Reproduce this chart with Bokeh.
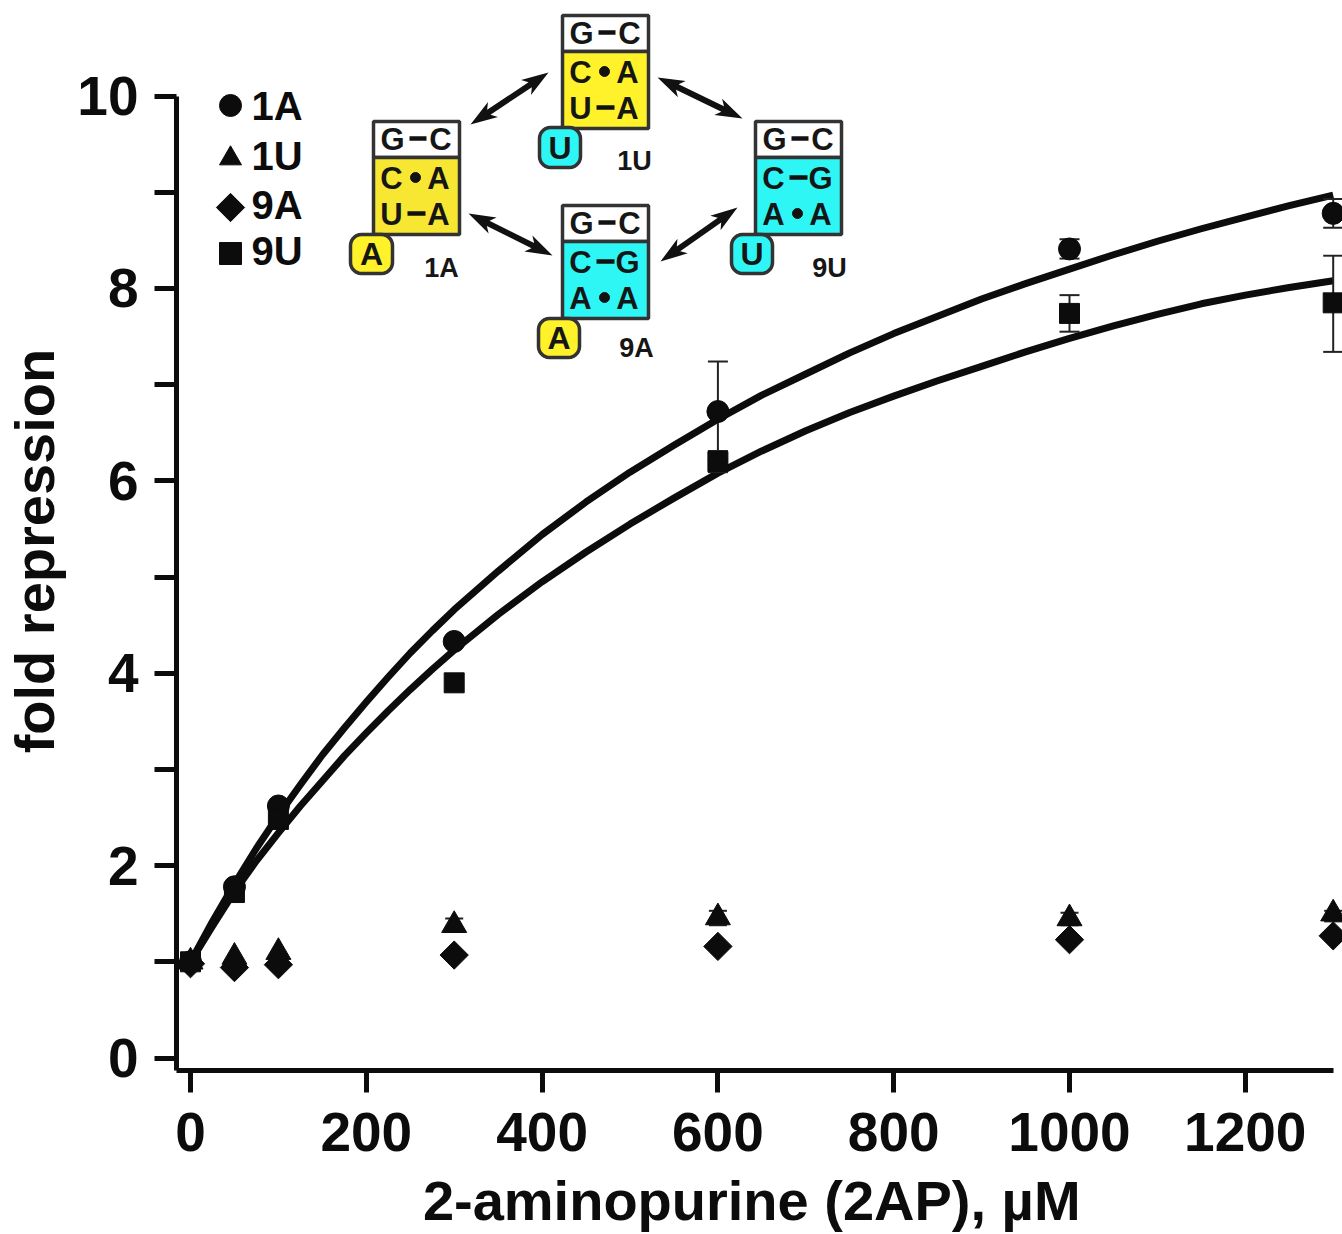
import numpy as np
from bokeh.plotting import figure
from bokeh.models import FixedTicker, Range1d
from bokeh.core.properties import value
from bokeh.embed import file_html
from bokeh.resources import INLINE

# ---------- data ----------
conc = [0, 50, 100, 300, 600, 1000, 1300]
y_1A = [1.0, 1.78, 2.62, 4.33, 6.72, 8.41, 8.78]
y_1U = [1.0, 1.05, 1.10, 1.38, 1.46, 1.45, 1.50]
y_9A = [0.98, 0.94, 0.97, 1.07, 1.16, 1.23, 1.27]
y_9U = [1.0, 1.72, 2.48, 3.90, 6.20, 7.74, 7.85]

err_1A_x = [600, 1000, 1300]
err_1A_lo = [6.22, 8.31, 8.63]
err_1A_hi = [7.24, 8.51, 8.93]
err_9U_x = [600, 1000, 1300]
err_9U_lo = [6.09, 7.55, 7.34]
err_9U_hi = [6.31, 7.93, 8.34]
err_1U_x = [300, 600, 1000, 1300]
err_1U_lo = [1.31, 1.38, 1.38, 1.42]
err_1U_hi = [1.45, 1.53, 1.51, 1.53]

curve_x = [0, 25, 50, 75, 100, 125, 150, 175, 200, 225, 250, 275, 300, 350, 400, 450, 500, 550, 600, 650, 700,
           750, 800, 850, 900, 950, 1000, 1050, 1100, 1150, 1200, 1250, 1300]
upper_y = [1.0, 1.42, 1.81, 2.18, 2.52, 2.84, 3.15, 3.43, 3.70, 3.96, 4.21, 4.44, 4.66, 5.06, 5.44, 5.78, 6.09, 6.37, 6.64,
           6.89, 7.11, 7.33, 7.53, 7.71, 7.89, 8.05, 8.20, 8.35, 8.49, 8.62, 8.74, 8.86, 8.97]
lower_y = [1.0, 1.37, 1.73, 2.05, 2.34, 2.62, 2.88, 3.14, 3.38, 3.61, 3.83, 4.04, 4.24, 4.61, 4.95, 5.26, 5.55, 5.82, 6.08,
           6.31, 6.52, 6.71, 6.88, 7.04, 7.19, 7.34, 7.48, 7.61, 7.73, 7.84, 7.93, 8.01, 8.08]

x_ticks = [0, 200, 400, 600, 800, 1000, 1200]
y_ticks = [0, 2, 4, 6, 8, 10]
y_minor = [1, 3, 5, 7, 9]

legend_names = ["1A", "1U", "9A", "9U"]
legend_markers = ["circle", "triangle", "square", "square"]

FONT = "Liberation Sans"
INK = "#0c0c0c"

# ---------- frame geometry ----------
W, H = 1342, 1234
FL, FB, FT = 176, 1070, 0
X0, XS = 190.0, 0.879
Y0, YS = 1057.5, 96.2


def dx(px):
    return (np.asarray(px, dtype=float) - X0) / XS


def dy(py):
    return (Y0 - np.asarray(py, dtype=float)) / YS


p = figure(width=W, height=H, output_backend="svg", toolbar_location=None,
           x_range=Range1d(float(dx(FL)), float(dx(W))),
           y_range=Range1d(float(dy(FB)), float(dy(FT))),
           min_border_left=FL, min_border_right=0, min_border_top=0,
           min_border_bottom=H - FB, outline_line_color=None,
           background_fill_color="white", border_fill_color="white")
p.grid.visible = False

xa, ya = p.xaxis[0], p.yaxis[0]
xa.ticker = FixedTicker(ticks=x_ticks)
ya.ticker = FixedTicker(ticks=y_ticks, minor_ticks=y_minor)
xa.bounds = (float(dx(FL)), 1300)
ya.bounds = (float(dy(FB)), 10)
for a in (xa, ya):
    a.axis_line_width = 5
    a.axis_line_color = INK
    a.major_tick_line_width = 5
    a.major_tick_line_color = INK
    a.major_tick_in = 0
    a.major_tick_out = 22
    a.major_label_text_font = FONT
    a.major_label_text_font_style = "bold"
    a.major_label_text_font_size = "55px"
    a.major_label_text_color = INK
    a.axis_label_text_font = FONT
    a.axis_label_text_font_style = "bold"
    a.axis_label_text_font_size = "56px"
    a.axis_label_text_color = INK
xa.minor_tick_line_color = None
ya.minor_tick_line_width = 5
ya.minor_tick_line_color = INK
ya.minor_tick_in = 0
ya.minor_tick_out = 22
xa.major_label_standoff = 20
ya.major_label_standoff = 16
# trailing no-break spaces move the centred titles to where the original has them
xa.axis_label = "2-aminopurine (2AP), µM\u00a0"
ya.axis_label = "fold repression\u00a0\u00a0"
xa.axis_label_standoff = 15
ya.axis_label_standoff = 8

# ---------- curves ----------
p.line(curve_x, upper_y, line_width=7, line_color=INK, line_join="round")
p.line(curve_x, lower_y, line_width=7, line_color=INK, line_join="round")


# ---------- error bars ----------
def errbars(xs, lo, hi, cap_px=10):
    xs = np.asarray(xs, dtype=float)
    cap = cap_px / XS
    p.segment(xs, lo, xs, hi, line_width=2, line_color="#222222")
    p.segment(xs - cap, lo, xs + cap, lo, line_width=2, line_color="#222222")
    p.segment(xs - cap, hi, xs + cap, hi, line_width=2, line_color="#222222")


errbars(err_1A_x, err_1A_lo, err_1A_hi)
errbars(err_9U_x, err_9U_lo, err_9U_hi)
errbars(err_1U_x, err_1U_lo, err_1U_hi, cap_px=9)

# ---------- points ----------
p.scatter(conc, y_1U, marker="triangle", size=25, color=INK)
p.scatter(conc, y_9A, marker="square", size=20, angle=np.pi / 4, color=INK)
p.scatter(conc, y_1A, marker="circle", size=22, color=INK)
p.scatter(conc, y_9U, marker="square", size=20, color=INK)

# ---------- legend (drawn like the original, inside the frame) ----------
lg_y = [105, 158, 207, 253]
lg_ty = [105, 155, 204, 250]
for name, mk, ym, yt in zip(legend_names, legend_markers, lg_y, lg_ty):
    ang = np.pi / 4 if name == "9A" else 0
    p.scatter([float(dx(230))], [float(dy(ym))], marker=mk, size=22 if name != "9A" else 20,
              angle=ang, color=INK)
    p.text([float(dx(251))], [float(dy(yt))], text=[name], text_font=value(FONT),
           text_font_style="bold", text_font_size="40px", text_baseline="middle",
           text_align="left", text_color=INK)

# ---------- inset diagram ----------
YEL1 = "#fff22a"
YEL2 = "#f7e733"
CYA = "#2ef6f4"
BORD = "#333333"


def txt(px, py, s, size=31, style="bold", color="#161616"):
    p.text([float(dx(px))], [float(dy(py))], text=[s], text_font=value(FONT),
           text_font_style=style, text_font_size=f"{size}px", text_align="center",
           text_baseline="middle", text_color=color)


def bar(x1, x2, py):
    p.segment([float(dx(x1))], [float(dy(py))], [float(dx(x2))], [float(dy(py))],
              line_width=4.5, line_color="#111111")


def dot(px, py):
    p.scatter([float(dx(px))], [float(dy(py))], marker="circle", size=10, color="#111111")


def pill(l, r, t, b, fill, letter):
    rad = 11
    a = np.linspace(0, np.pi / 2, 8)
    xs = np.concatenate([r - rad + rad * np.cos(a), l + rad - rad * np.sin(a),
                         l + rad - rad * np.cos(a), r - rad + rad * np.sin(a)])
    ys = np.concatenate([t + rad - rad * np.sin(a), t + rad - rad * np.cos(a),
                         b - rad + rad * np.sin(a), b - rad + rad * np.cos(a)])
    p.patch(dx(xs), dy(ys), fill_color=fill, line_color=BORD, line_width=3.5)
    txt((l + r) / 2, (t + b) / 2, letter, size=32)


def box(l, t, b, fill, rows):
    r = l + 86
    d = t + 36
    p.quad(left=[float(dx(l))], right=[float(dx(r))], top=[float(dy(t))], bottom=[float(dy(d))],
           fill_color="white", line_color=BORD, line_width=3.5)
    p.quad(left=[float(dx(l))], right=[float(dx(r))], top=[float(dy(d))], bottom=[float(dy(b))],
           fill_color=fill, line_color=BORD, line_width=3.5)
    txt(l + 19, t + 18, "G")
    bar(l + 36, l + 53, t + 17)
    txt(l + 67, t + 18, "C")
    for (a_, link, c_), yy in zip(rows, (t + 57, t + 93)):
        txt(l + 18, yy, a_)
        if link == "dot":
            dot(l + 42, yy - 1)
        else:
            bar(l + 34, l + 52, yy - 1)
        txt(l + 65, yy, c_)


yl_rows = [("C", "dot", "A"), ("U", "bar", "A")]
cy_rows = [("C", "bar", "G"), ("A", "dot", "A")]
box(562, 15, 128, YEL1, yl_rows)
box(373, 121, 234, YEL2, yl_rows)
box(755, 121, 234, CYA, cy_rows)
box(562, 205, 318, CYA, cy_rows)
pill(350, 392, 234, 273, YEL1, "A")
pill(539, 580, 127, 167, CYA, "U")
pill(731, 772, 234, 273, CYA, "U")
pill(538, 579, 318, 357, YEL1, "A")
txt(634, 160, "1U", 27)
txt(441, 267, "1A", 27)
txt(829, 267, "9U", 27)
txt(636, 347, "9A", 27)


def double_arrow(x1, y1, x2, y2, shaft=3, head_len=27, head_w=9):
    """Slim two-headed arrow, as a filled polygon."""
    v = np.array([x2 - x1, y2 - y1], dtype=float)
    L = np.hypot(*v)
    u = v / L
    n = np.array([-u[1], u[0]])
    along = [0, head_len, head_len - 5, L - head_len + 5, L - head_len, L,
             L - head_len, L - head_len + 5, head_len - 5, head_len]
    side = [0, head_w, shaft, shaft, head_w, 0, -head_w, -shaft, -shaft, -head_w]
    xs = [x1 + a * u[0] + s * n[0] for a, s in zip(along, side)]
    ys = [y1 + a * u[1] + s * n[1] for a, s in zip(along, side)]
    p.patch(dx(xs), dy(ys), fill_color="#111111", line_color=None)


for seg in [(470, 124, 548, 72), (657, 77, 742, 118),
            (468, 213, 552, 255), (660, 261, 737, 207)]:
    double_arrow(*seg)

open("out.html", "w").write(file_html(p, INLINE))
